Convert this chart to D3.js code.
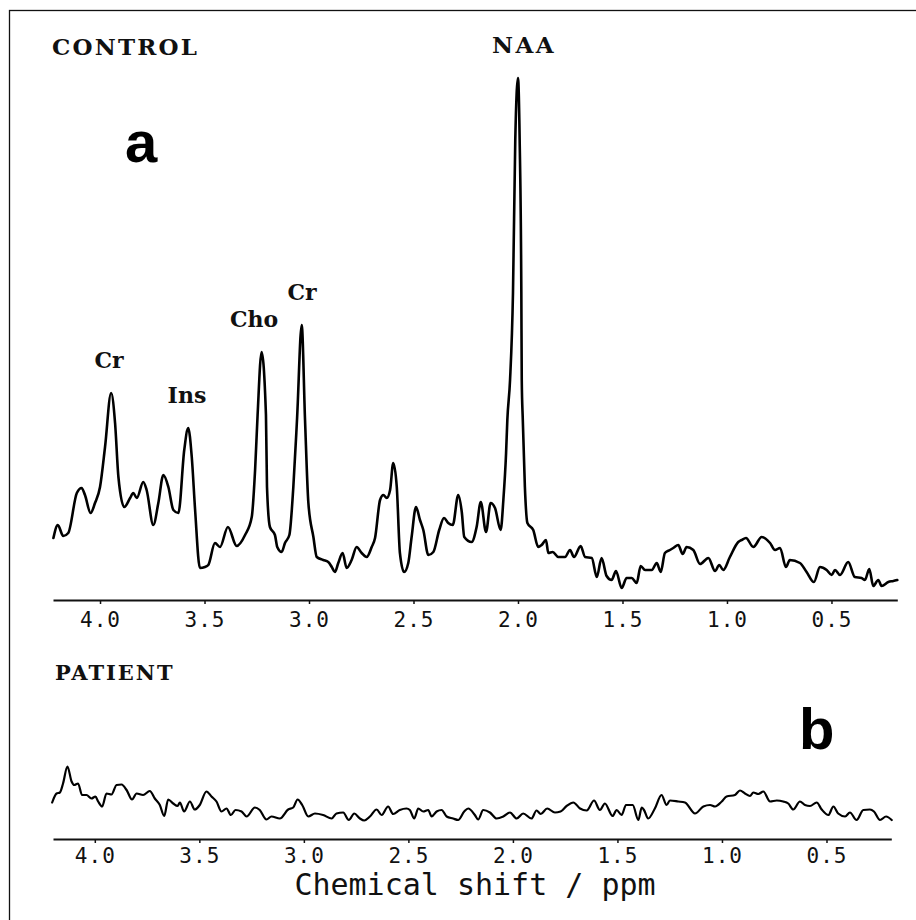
<!DOCTYPE html>
<html>
<head>
<meta charset="utf-8">
<script src="https://d3js.org/d3.v7.min.js"></script>
<style>
    body { margin: 0; background: #fff; }
    svg { display: block; }
    .serif { font-family: "DejaVu Serif", serif; font-weight: bold; fill: #111; }
    .mono { font-family: "DejaVu Sans Mono", monospace; fill: #111; }
    .big { font-family: "Liberation Sans", Arial, sans-serif; font-weight: bold; fill: #000; }
    .trace { fill: none; stroke: #000; stroke-linejoin: round; stroke-linecap: round; }
</style>
</head>
<body>
<script>
// spectrum a, control: chemical shift (ppm) and signal (arbitrary units)
var controlPpm = [
    4.223, 4.202, 4.176, 4.152, 4.111, 4.088, 4.072, 4.045, 4.024, 4.000,
    3.976, 3.947, 3.928, 3.912, 3.884, 3.856, 3.841, 3.824, 3.793, 3.777,
    3.745, 3.721, 3.697, 3.673, 3.649, 3.625, 3.597, 3.578, 3.561, 3.545,
    3.522, 3.498, 3.482, 3.450, 3.426, 3.388, 3.346, 3.306, 3.274, 3.258,
    3.246, 3.227, 3.206, 3.201, 3.187, 3.163, 3.152, 3.131, 3.115, 3.094,
    3.075, 3.057, 3.035, 3.019, 3.003, 2.979, 2.963, 2.932, 2.908, 2.891,
    2.876, 2.860, 2.839, 2.820, 2.796, 2.772, 2.748, 2.724, 2.700, 2.684,
    2.660, 2.644, 2.628, 2.612, 2.597, 2.580, 2.565, 2.545, 2.525, 2.509,
    2.488, 2.469, 2.453, 2.429, 2.405, 2.377, 2.354, 2.334, 2.312, 2.286,
    2.269, 2.257, 2.222, 2.198, 2.178, 2.153, 2.131, 2.110, 2.083, 2.070,
    2.057, 2.051, 2.038, 2.024, 2.013, 2.000, 1.992, 1.984, 1.982, 1.977,
    1.967, 1.955, 1.927, 1.903, 1.887, 1.866, 1.855, 1.834, 1.807, 1.775,
    1.751, 1.732, 1.700, 1.679, 1.647, 1.623, 1.600, 1.576, 1.552, 1.531,
    1.504, 1.480, 1.456, 1.432, 1.413, 1.392, 1.360, 1.336, 1.317, 1.297,
    1.273, 1.257, 1.233, 1.212, 1.193, 1.161, 1.129, 1.089, 1.057, 1.037,
    1.018, 0.986, 0.946, 0.930, 0.909, 0.874, 0.834, 0.794, 0.770, 0.746,
    0.718, 0.699, 0.651, 0.619, 0.584, 0.555, 0.523, 0.499, 0.483, 0.459,
    0.420, 0.388, 0.356, 0.340, 0.319, 0.300, 0.276, 0.260, 0.228, 0.204,
    0.185
];
var controlSignal = [
    12.4, 15.0, 12.8, 13.4, 21.4, 22.4, 21.0, 17.4, 19.4, 22.6,
    30.6, 41.4, 35.4, 24.6, 18.6, 20.4, 21.4, 20.4, 23.6, 22.0,
    15.0, 19.4, 25.0, 22.6, 18.0, 17.4, 30.0, 34.4, 28.6, 18.0,
    6.4, 6.6, 7.0, 11.4, 10.6, 14.6, 10.8, 13.0, 16.6, 26.0,
    37.0, 49.6, 37.0, 22.6, 14.6, 13.0, 10.6, 9.6, 11.4, 13.0,
    22.6, 36.4, 55.0, 36.0, 19.4, 12.6, 8.6, 8.0, 7.6, 6.6,
    5.6, 7.4, 9.4, 6.4, 8.0, 10.6, 9.4, 8.6, 10.6, 12.4,
    20.0, 21.0, 20.4, 22.0, 27.4, 22.6, 9.4, 5.6, 7.4, 12.6,
    18.6, 16.0, 14.0, 9.0, 9.6, 14.0, 16.4, 15.4, 15.0, 21.0,
    17.6, 12.6, 11.6, 14.6, 19.6, 13.6, 19.4, 18.4, 14.0, 20.0,
    29.4, 36.0, 44.0, 61.4, 92.0, 104.4, 92.0, 61.4, 44.0, 36.0,
    22.6, 15.4, 14.0, 10.6, 11.0, 12.0, 9.4, 9.6, 8.6, 8.6,
    10.0, 8.6, 10.8, 8.6, 8.4, 4.6, 8.4, 4.8, 4.0, 5.8,
    2.4, 4.4, 4.4, 3.4, 6.8, 6.0, 6.0, 7.4, 5.6, 9.4,
    10.0, 10.4, 11.0, 9.2, 10.6, 10.0, 7.2, 8.4, 5.8, 7.0,
    6.0, 8.6, 11.6, 12.0, 12.4, 10.6, 12.6, 11.4, 10.0, 10.4,
    6.6, 8.0, 7.4, 5.6, 3.6, 6.6, 6.0, 5.0, 6.0, 5.0,
    7.6, 4.6, 4.4, 4.0, 6.2, 2.8, 4.0, 2.8, 3.6, 3.8,
    4.0
];

// spectrum b, patient
var patientPpm = [
    4.204, 4.183, 4.167, 4.152, 4.131, 4.111, 4.099, 4.080, 4.061, 4.040,
    4.016, 3.997, 3.984, 3.965, 3.944, 3.920, 3.896, 3.872, 3.848, 3.822,
    3.800, 3.769, 3.737, 3.713, 3.689, 3.668, 3.649, 3.625, 3.604, 3.593,
    3.573, 3.545, 3.522, 3.498, 3.466, 3.442, 3.418, 3.394, 3.370, 3.349,
    3.327, 3.298, 3.274, 3.234, 3.211, 3.179, 3.155, 3.115, 3.075, 3.051,
    3.030, 3.008, 2.979, 2.947, 2.908, 2.867, 2.844, 2.812, 2.785, 2.759,
    2.732, 2.711, 2.684, 2.652, 2.628, 2.597, 2.573, 2.541, 2.509, 2.493,
    2.472, 2.453, 2.429, 2.405, 2.389, 2.365, 2.341, 2.317, 2.286, 2.262,
    2.233, 2.214, 2.182, 2.166, 2.142, 2.110, 2.078, 2.046, 2.014, 1.982,
    1.951, 1.911, 1.887, 1.867, 1.836, 1.799, 1.772, 1.743, 1.711, 1.679,
    1.647, 1.612, 1.584, 1.560, 1.523, 1.504, 1.480, 1.459, 1.427, 1.400,
    1.384, 1.373, 1.353, 1.321, 1.289, 1.265, 1.249, 1.209, 1.177, 1.129,
    1.089, 1.057, 1.033, 1.001, 0.978, 0.938, 0.914, 0.890, 0.866, 0.850,
    0.826, 0.802, 0.770, 0.738, 0.707, 0.683, 0.659, 0.627, 0.603, 0.579,
    0.547, 0.523, 0.491, 0.467, 0.444, 0.411, 0.388, 0.356, 0.324, 0.292,
    0.273, 0.244, 0.215, 0.188
];
var patientSignal = [
    7.3, 9.1, 9.3, 11.1, 14.5, 11.5, 10.8, 11.1, 8.8, 8.8,
    8.1, 8.5, 7.5, 6.5, 9.1, 8.9, 10.8, 10.9, 9.8, 7.9,
    9.1, 8.8, 9.6, 8.1, 6.8, 4.6, 7.9, 7.1, 6.6, 7.3,
    5.5, 7.5, 5.9, 6.8, 9.5, 8.5, 7.5, 5.5, 6.1, 4.8,
    5.8, 5.5, 4.5, 6.3, 5.8, 3.9, 4.5, 4.1, 5.9, 6.3,
    7.9, 6.8, 4.5, 5.1, 4.8, 4.1, 5.1, 5.3, 3.8, 5.1,
    4.1, 3.7, 4.5, 5.9, 4.8, 6.5, 5.0, 5.8, 6.1, 5.8,
    4.1, 6.1, 5.5, 5.8, 4.5, 5.5, 5.8, 4.5, 4.1, 3.8,
    5.5, 6.1, 4.8, 3.9, 5.8, 5.3, 4.1, 4.5, 5.3, 4.1,
    5.1, 4.1, 5.7, 5.0, 6.1, 5.3, 5.5, 6.6, 7.3, 6.1,
    5.7, 7.7, 5.8, 7.1, 4.6, 5.8, 4.8, 6.8, 6.8, 3.8,
    6.3, 5.8, 4.1, 6.1, 8.8, 6.8, 7.7, 7.5, 7.3, 5.1,
    6.5, 6.8, 6.5, 7.5, 8.5, 8.8, 9.7, 9.1, 8.6, 9.3,
    9.0, 9.5, 7.5, 7.7, 7.5, 7.1, 5.9, 7.5, 6.8, 6.6,
    7.3, 5.9, 4.8, 6.5, 5.1, 4.5, 5.3, 3.8, 5.8, 5.9,
    5.5, 3.8, 4.5, 3.8
];

var tickValues = [4.0, 3.5, 3.0, 2.5, 2.0, 1.5, 1.0, 0.5];

// peak assignments in spectrum a
var peakNames = ["Cr", "Ins", "Cho", "Cr", "NAA"];
var peakPpm = [3.957, 3.584, 3.263, 3.033, 1.971];

var W = 916, H = 920;
var svg = d3.select("body").append("svg")
    .attr("width", W)
    .attr("height", H);

svg.append("rect")
    .attr("width", W)
    .attr("height", H)
    .attr("fill", "#fff");

// frame of the figure (right and bottom edges fall outside the crop)
svg.append("rect")
    .attr("x", 9.5)
    .attr("y", 10.5)
    .attr("width", 920)
    .attr("height", 930)
    .attr("fill", "none")
    .attr("stroke", "#111")
    .attr("stroke-width", 1.3);

var xTop = d3.scaleLinear().domain([4.225, 0.185]).range([53, 897.3]);
var yTop = d3.scaleLinear().domain([0, 104]).range([600, 80]);
var xBot = d3.scaleLinear().domain([4.2, 0.19]).range([53, 891.3]);
var yBot = d3.scaleLinear().domain([0, 20]).range([839, 739]);

function drawAxis(x, yPos, labelY) {
    var axis = d3.axisBottom(x)
        .tickValues(tickValues)
        .tickSize(4)
        .tickSizeOuter(0)
        .tickFormat(d3.format(".1f"));
    var g = svg.append("g")
        .attr("transform", "translate(0," + yPos + ")")
        .call(axis);
    g.select(".domain").attr("stroke", "#111").attr("stroke-width", 2);
    g.selectAll(".tick line").attr("stroke", "#111").attr("stroke-width", 1.5);
    g.selectAll(".tick text")
        .attr("class", "mono")
        .attr("y", labelY)
        .attr("dy", null)
        .attr("font-size", 21)
        .attr("letter-spacing", 1)
        .attr("fill", "#111");
    g.attr("font-family", null).attr("font-size", null);
}

function drawTrace(ppm, signal, x, y, width) {
    var pts = ppm.map(function(p, i) { return [p, signal[i]]; });
    var line = d3.line()
        .curve(d3.curveMonotoneX)
        .x(function(d) { return x(d[0]); })
        .y(function(d) { return y(d[1]); });
    svg.append("path")
        .datum(pts)
        .attr("class", "trace")
        .attr("stroke-width", width)
        .attr("d", line);
}

// panel a
drawTrace(controlPpm, controlSignal, xTop, yTop, 2.6);
drawAxis(xTop, 600, 27);

svg.append("text")
    .attr("class", "serif")
    .attr("x", 52)
    .attr("y", 55)
    .attr("font-size", 23)
    .attr("letter-spacing", 2.2)
    .text("CONTROL");

svg.append("text")
    .attr("class", "big")
    .attr("x", 125)
    .attr("y", 162)
    .attr("font-size", 58)
    .text("a");

// label each peak just above its maximum
svg.selectAll(".peak")
    .data(peakNames)
    .enter()
    .append("text")
    .attr("class", "serif peak")
    .attr("text-anchor", "middle")
    .attr("font-size", function(d) { return d === "NAA" ? 23 : 22; })
    .attr("letter-spacing", function(d) { return d === "NAA" ? 2.5 : 0; })
    .attr("x", function(d, i) { return xTop(peakPpm[i]); })
    .attr("y", function(d, i) {
        var top = 0;
        controlPpm.forEach(function(p, j) {
            if (Math.abs(p - peakPpm[i]) < 0.045) top = Math.max(top, controlSignal[j]);
        });
        return yTop(top) - 25;
    })
    .text(function(d) { return d; });

// panel b
drawTrace(patientPpm, patientSignal, xBot, yBot, 2.2);
drawAxis(xBot, 839, 24);

svg.append("text")
    .attr("class", "serif")
    .attr("x", 55)
    .attr("y", 680)
    .attr("font-size", 21)
    .attr("letter-spacing", 2)
    .text("PATIENT");

svg.append("text")
    .attr("class", "big")
    .attr("x", 799)
    .attr("y", 749)
    .attr("font-size", 58)
    .text("b");

svg.append("text")
    .attr("class", "mono")
    .attr("text-anchor", "middle")
    .attr("x", 475)
    .attr("y", 895)
    .attr("font-size", 30)
    .text("Chemical shift / ppm");
</script>
</body>
</html>
